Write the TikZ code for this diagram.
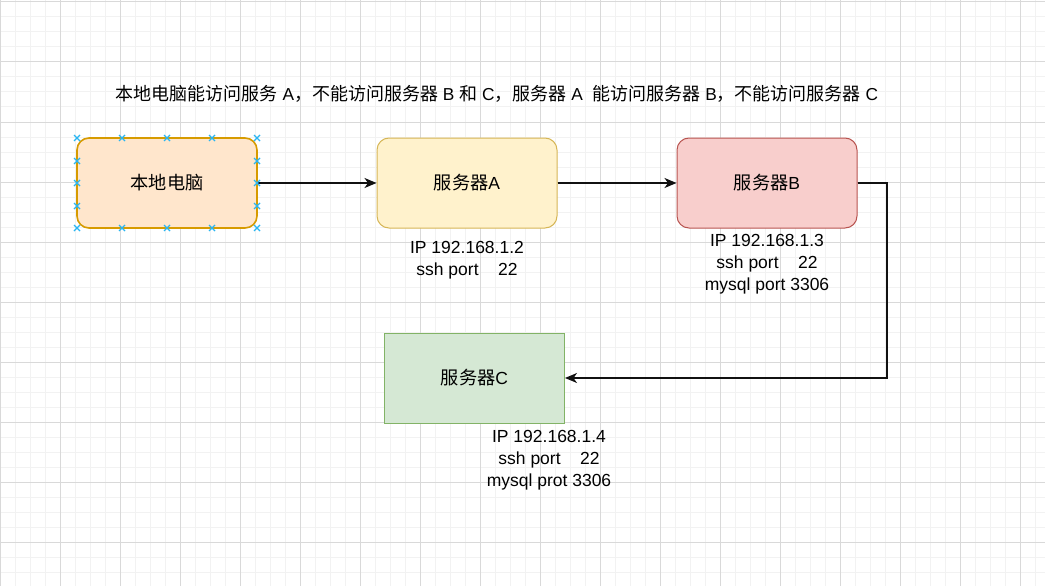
\documentclass[tikz,border=0pt]{standalone}
\usepackage{fontspec}
\setmainfont{Liberation Sans}
\newfontfamily\cjk{Noto Sans CJK SC}[Scale=1.04]
\usetikzlibrary{arrows.meta}
\definecolor{gridminor}{HTML}{F2F2F2}
\definecolor{gridmajor}{HTML}{D9D9D9}
\definecolor{orfill}{HTML}{FFE6CC}
\definecolor{ordraw}{HTML}{D79B00}
\definecolor{yefill}{HTML}{FFF2CC}
\definecolor{yedraw}{HTML}{D6B656}
\definecolor{refill}{HTML}{F8CECC}
\definecolor{redraw}{HTML}{B85450}
\definecolor{grfill}{HTML}{D5E8D4}
\definecolor{grdraw}{HTML}{82B366}
\definecolor{selblue}{HTML}{29B6F2}
\definecolor{linecol}{HTML}{111111}
\tikzset{
  box/.style={minimum width=180pt, minimum height=90pt, inner sep=0pt, line width=1pt,
     font=\fontsize{17.5}{20}\selectfont},
  rbox/.style={box, rounded corners=12pt},
  info/.style={align=center, inner sep=0pt, font=\fontsize{17.5}{22}\selectfont},
  conn/.style={draw=linecol, line width=1.3pt, -{Stealth[length=12pt,width=10pt,inset=3.5pt]}},
  xmark/.style={draw=selblue, line width=1.2pt}
}
\begin{document}
\begin{tikzpicture}[x=1pt,y=-1pt]
\useasboundingbox (0,0) rectangle (1045,586);
\fill[white] (0,0) rectangle (1045,586);
% grid
\foreach \i in {1,...,69} {
  \draw[gridminor, line width=1pt] (\i*15,0) -- (\i*15,586);
}
\foreach \j in {0,...,38} {
  \draw[gridminor, line width=1pt] (0,2+\j*15) -- (1045,2+\j*15);
}
\foreach \i in {0,...,17} {
  \draw[gridmajor, line width=1pt] (\i*60,0) -- (\i*60,586);
}
\foreach \j in {0,...,9} {
  \draw[gridmajor, line width=1pt] (0,2+\j*60) -- (1045,2+\j*60);
}
% title
\node[inner sep=0pt, font=\fontsize{17.3}{20}\selectfont] (title) at (497,94)
  {{\cjk 本地电脑能访问服务} A{\cjk ，不能访问服务器} B {\cjk 和} C{\cjk ，服务器} A\ \ {\cjk 能访问服务器} B{\cjk ，不能访问服务器} C};
% boxes
\node[rbox, fill=orfill, draw=ordraw, line width=1.6pt] (pc) at (167,183) {\cjk 本地电脑};
\node[rbox, fill=yefill, draw=yedraw] (sa) at (467,183) {{\cjk 服务器}A};
\node[rbox, fill=refill, draw=redraw] (sb) at (767,183) {{\cjk 服务器}B};
\node[box, fill=grfill, draw=grdraw] (sc) at (474.5,378) {{\cjk 服务器}C};
% info labels
\node[info] (la) at (467,260) {IP 192.168.1.2\\ssh port\ \ \ \ 22};
\node[info] (lb) at (767,264) {IP 192.168.1.3\\ssh port\ \ \ \ 22\\mysql port 3306};
\node[info] (lc) at (549,460) {IP 192.168.1.4\\ssh port\ \ \ \ 22\\mysql prot 3306};
% connectors
\coordinate (bend) at (887,183);
\draw[conn] (pc.east) -- (sa.west);
\draw[conn] (sa.east) -- (sb.west);
\draw[conn] (sb.east) -- (bend) |- (sc.east);
% selection markers
\foreach \x in {77,122,167,212,257} {
  \foreach \y in {138,228} {
    \draw[xmark] (\x-3,\y-3) -- (\x+3,\y+3) (\x-3,\y+3) -- (\x+3,\y-3);
  }
}
\foreach \x in {77,257} {
  \foreach \y in {161,183,206} {
    \draw[xmark] (\x-3,\y-3) -- (\x+3,\y+3) (\x-3,\y+3) -- (\x+3,\y-3);
  }
}
\end{tikzpicture}
\end{document}
